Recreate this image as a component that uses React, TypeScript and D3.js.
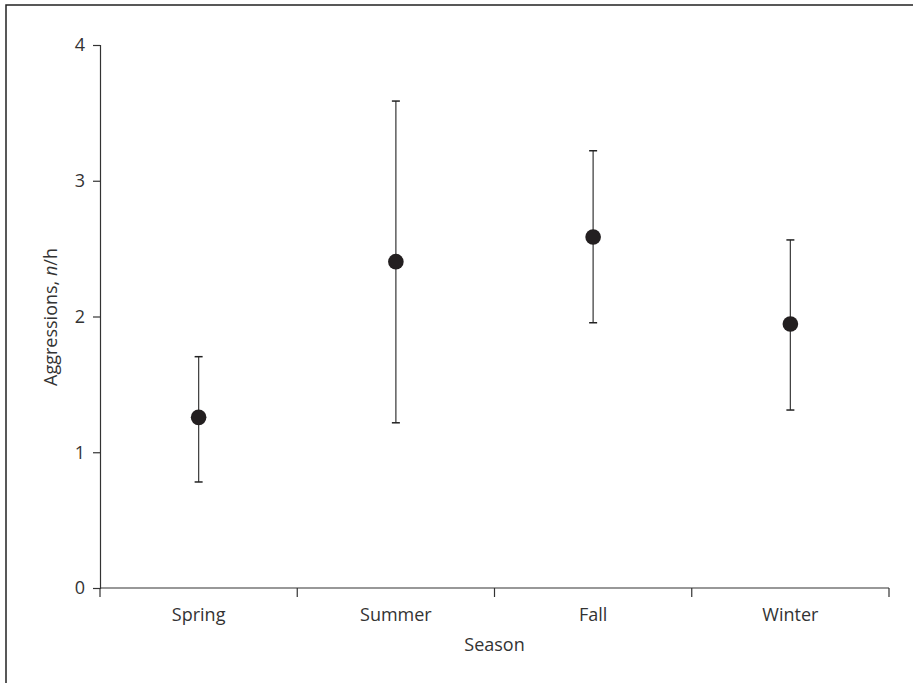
import React, { useEffect, useRef } from 'react';
import * as d3 from 'd3';

const seasons = ['Spring', 'Summer', 'Fall', 'Winter'];
const means = [1.257, 2.404, 2.586, 1.945];
const upper = [1.704, 3.587, 3.221, 2.564];
const lower = [0.781, 1.217, 1.954, 1.311];
const yTicks = [0, 1, 2, 3, 4];

const App = () => {
  const svgRef = useRef<SVGSVGElement>(null);

  useEffect(() => {
    const width = 913;
    const height = 683;
    const margin = { top: 45, right: 24, bottom: 95, left: 100 };
    const chartWidth = width - margin.left - margin.right;
    const chartHeight = height - margin.top - margin.bottom;
    const font = '"Open Sans", "Noto Sans", sans-serif';
    const fontSize = '18px';
    const ink = '#333';

    const svg = d3.select(svgRef.current).attr('width', width).attr('height', height);
    svg.selectAll('*').remove();

    // outer frame (right and bottom edges fall outside the picture)
    svg.append('rect')
      .attr('x', 6)
      .attr('y', 5)
      .attr('width', width + 10)
      .attr('height', height + 10)
      .attr('fill', 'white')
      .attr('stroke', '#222')
      .attr('stroke-width', 1.5);

    const x = d3.scaleBand()
      .domain(seasons)
      .range([0, chartWidth])
      .padding(0);

    const y = d3.scaleLinear()
      .domain([0, 4])
      .range([chartHeight, 0]);

    const g = svg.append('g').attr('transform', `translate(${margin.left},${margin.top})`);

    // y axis
    const yAxis = g.append('g')
      .call(d3.axisLeft(y).tickValues(yTicks).tickFormat(d3.format('d')).tickSize(7).tickPadding(8));
    yAxis.select('.domain').attr('stroke', ink).attr('stroke-width', 1.2);
    yAxis.selectAll('.tick line').attr('stroke', ink).attr('stroke-width', 1.2);
    yAxis.selectAll('.tick text')
      .attr('fill', ink)
      .style('font-family', font)
      .style('font-size', fontSize);

    // x axis with ticks at band boundaries
    const xAxis = g.append('g').attr('transform', `translate(0,${chartHeight})`);
    xAxis.append('line')
      .attr('x1', 0)
      .attr('x2', chartWidth)
      .attr('stroke', ink)
      .attr('stroke-width', 1.2);
    const bounds = [0, ...seasons.map(s => (x(s) ?? 0) + x.bandwidth())];
    xAxis.selectAll('.xtick')
      .data(bounds)
      .enter()
      .append('line')
      .attr('class', 'xtick')
      .attr('x1', d => d)
      .attr('x2', d => d)
      .attr('y1', 0)
      .attr('y2', 9)
      .attr('stroke', ink)
      .attr('stroke-width', 1.2);
    xAxis.selectAll('.xlabel')
      .data(seasons)
      .enter()
      .append('text')
      .attr('class', 'xlabel')
      .attr('x', d => (x(d) ?? 0) + x.bandwidth() / 2)
      .attr('y', 33)
      .attr('text-anchor', 'middle')
      .attr('fill', ink)
      .style('font-family', font)
      .style('font-size', fontSize)
      .text(d => d);

    // error bars
    const cx = (i: number) => (x(seasons[i]) ?? 0) + x.bandwidth() / 2;
    const bars = g.selectAll('.err')
      .data(means)
      .enter()
      .append('g')
      .attr('class', 'err');
    bars.append('line')
      .attr('x1', (d, i) => cx(i))
      .attr('x2', (d, i) => cx(i))
      .attr('y1', (d, i) => y(upper[i]))
      .attr('y2', (d, i) => y(lower[i]))
      .attr('stroke', '#444')
      .attr('stroke-width', 1.3);
    bars.append('line')
      .attr('x1', (d, i) => cx(i) - 4)
      .attr('x2', (d, i) => cx(i) + 4)
      .attr('y1', (d, i) => y(upper[i]))
      .attr('y2', (d, i) => y(upper[i]))
      .attr('stroke', '#222')
      .attr('stroke-width', 1.5);
    bars.append('line')
      .attr('x1', (d, i) => cx(i) - 4)
      .attr('x2', (d, i) => cx(i) + 4)
      .attr('y1', (d, i) => y(lower[i]))
      .attr('y2', (d, i) => y(lower[i]))
      .attr('stroke', '#222')
      .attr('stroke-width', 1.5);
    bars.append('circle')
      .attr('cx', (d, i) => cx(i))
      .attr('cy', d => y(d))
      .attr('r', 7.8)
      .attr('fill', '#231f20');

    // axis titles
    g.append('text')
      .attr('x', chartWidth / 2)
      .attr('y', chartHeight + 63)
      .attr('text-anchor', 'middle')
      .attr('fill', ink)
      .style('font-family', font)
      .style('font-size', fontSize)
      .text('Season');

    const yTitle = g.append('text')
      .attr('transform', 'rotate(-90)')
      .attr('x', -(317 - margin.top))
      .attr('y', -margin.left + 57)
      .attr('text-anchor', 'middle')
      .attr('fill', ink)
      .style('font-family', font)
      .style('font-size', fontSize);
    yTitle.append('tspan').text('Aggressions, ');
    yTitle.append('tspan').style('font-style', 'italic').text('n');
    yTitle.append('tspan').text('/h');
  }, []);

  return (
    <div>
      <svg ref={svgRef} style={{ position: 'absolute', left: 0, top: 0, display: 'block' }}></svg>
    </div>
  );
};

export default App;
